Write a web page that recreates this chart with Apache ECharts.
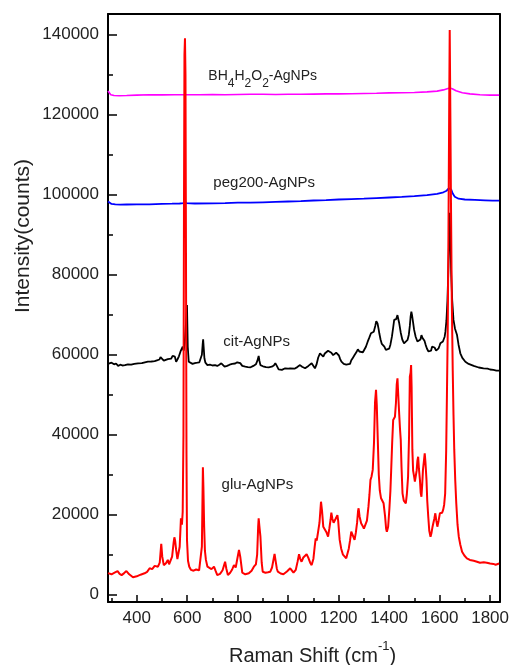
<!DOCTYPE html>
<html>
<head>
<meta charset="utf-8">
<script src="https://cdn.jsdelivr.net/npm/echarts@6/dist/echarts.min.js"></script>
<style>
  html, body { margin: 0; padding: 0; background: #fff; }
  #chart { width: 512px; height: 665px; }
</style>
</head>
<body>
<div id="chart"></div>
<script>
// Raman spectra of Ag nanoparticles with different capping agents: [shift (cm-1), counts]
const gluAgNPs = [[286,5400],[300,5100],[312,5500],[324,5900],[332,5200],[340,4900],[350,5400],[359,5900],[370,5100],[385,4350],[400,4600],[415,5000],[431,5350],[441,5700],[451,6600],[461,6400],[471,7200],[484,7000],[491,8000],[497,12700],[501,9500],[507,7400],[515,7800],[523,8700],[528,7600],[533,7400],[540,9500],[546,13000],[549,14350],[552,13500],[556,11200],[561,8900],[565,8700],[570,12000],[575,19100],[579,17500],[582,20750],[585,40000],[587,95000],[589,135000],[591,139100],[593,130000],[595,85000],[597,35000],[599,13700],[603,8500],[608,7000],[615,6200],[625,6000],[635,6300],[647,6100],[653,6600],[658,12000],[660,22000],[662,31850],[664,27000],[667,17000],[670,11000],[674,8700],[680,7000],[687,6600],[696,6400],[706,7000],[712,6000],[719,4900],[730,5200],[740,6100],[750,8250],[755,6500],[761,4900],[770,5500],[778,6300],[785,7400],[792,6800],[797,8500],[805,11200],[810,9500],[818,5500],[830,5100],[844,5350],[855,6000],[864,7000],[872,7600],[877,10000],[881,17000],[883,19100],[886,17000],[890,14500],[895,8000],[899,5750],[910,5500],[920,5600],[929,5750],[936,6800],[941,8500],[946,10200],[950,8500],[955,6500],[959,5750],[970,5300],[981,5100],[995,5800],[1008,6600],[1015,6200],[1021,5500],[1030,6200],[1037,8200],[1043,10100],[1048,8900],[1053,8250],[1060,9300],[1066,9000],[1073,10100],[1080,9200],[1087,8000],[1093,7400],[1100,9000],[1105,12000],[1109,14100],[1113,13500],[1118,15500],[1124,18000],[1128,21500],[1130,23250],[1134,21000],[1139,17000],[1145,17500],[1151,15700],[1158,14500],[1163,16500],[1168,18800],[1171,20500],[1175,19000],[1180,18000],[1184,17500],[1188,19000],[1193,19500],[1195,19900],[1198,18500],[1204,13700],[1210,11500],[1217,10000],[1224,9500],[1230,9100],[1234,9300],[1240,11500],[1245,13500],[1250,15750],[1256,15500],[1263,13700],[1268,15500],[1273,18000],[1277,21000],[1279,21600],[1283,19500],[1289,17850],[1295,17200],[1300,16500],[1305,16200],[1312,18500],[1318,22000],[1322,25000],[1326,28700],[1330,29500],[1335,31200],[1340,38000],[1344,48000],[1348,51200],[1351,47500],[1355,38700],[1359,30000],[1363,26000],[1368,24100],[1373,24000],[1378,22850],[1384,19500],[1388,16500],[1391,15750],[1396,17000],[1401,21500],[1405,26000],[1408,31000],[1412,38000],[1416,43700],[1420,44000],[1423,44500],[1427,48000],[1430,52500],[1433,54100],[1436,50000],[1440,45000],[1443,41500],[1446,38700],[1449,32000],[1453,25350],[1458,23500],[1462,23200],[1466,22850],[1470,25000],[1475,29500],[1479,40000],[1482,54500],[1485,55500],[1487,57400],[1489,52000],[1492,36200],[1495,31000],[1499,29500],[1502,28300],[1505,27850],[1509,31000],[1512,33500],[1515,34500],[1518,31500],[1522,28700],[1525,25500],[1528,24500],[1531,27500],[1534,31200],[1538,33500],[1541,35350],[1544,33000],[1548,28700],[1551,23500],[1555,19500],[1559,16000],[1564,14500],[1568,15500],[1572,17000],[1575,17850],[1579,19000],[1583,20350],[1587,18500],[1591,17000],[1596,18500],[1601,20350],[1606,20000],[1610,20500],[1614,21200],[1618,22500],[1622,25350],[1626,36000],[1629,50000],[1632,65000],[1635,90000],[1638,122000],[1640,141200],[1642,125000],[1645,98000],[1648,75000],[1652,56000],[1655,45000],[1658,36200],[1662,28500],[1666,22850],[1671,17500],[1676,14500],[1682,12500],[1689,10750],[1698,9800],[1708,9100],[1720,8700],[1735,8500],[1748,8250],[1760,8000],[1775,8100],[1787,8000],[1800,7800],[1813,7700],[1822,7500],[1829,7850],[1836,7800]];

const citAgNPs = [[286,57700],[293,58100],[300,58000],[310,57600],[318,57800],[326,57200],[335,57500],[343,57300],[353,57400],[365,57600],[378,57500],[390,57700],[405,57850],[420,57900],[432,58100],[444,58250],[458,58300],[471,58400],[480,58600],[490,58800],[494,59400],[497,59700],[501,59000],[507,58500],[515,58700],[523,58900],[530,59100],[536,59000],[542,59700],[547,60200],[551,59500],[556,58250],[561,58800],[567,59600],[573,60750],[578,61200],[582,62000],[586,61000],[590,63000],[595,68000],[599,72400],[602,62000],[606,58250],[612,58000],[621,57700],[630,57900],[640,58000],[648,58100],[654,58250],[658,60000],[661,62500],[663,63850],[665,62000],[668,59100],[672,58000],[680,57400],[690,57500],[700,57300],[710,57400],[719,57200],[727,57500],[735,57850],[741,57400],[748,57000],[758,57200],[768,57500],[778,57700],[790,57800],[798,58100],[805,58500],[810,57900],[818,57200],[830,57000],[840,56900],[851,56850],[862,57200],[872,57600],[878,58500],[883,59700],[886,58500],[890,57400],[900,57100],[912,56900],[923,56850],[935,57000],[943,57300],[949,57850],[955,57200],[962,56350],[975,56200],[988,56600],[1000,56500],[1008,56600],[1014,56350],[1025,56500],[1036,56900],[1047,57400],[1055,57000],[1067,56600],[1080,57200],[1093,57850],[1100,57200],[1106,56600],[1112,57500],[1119,59300],[1126,60350],[1132,60000],[1139,59500],[1145,60300],[1152,60500],[1158,61000],[1165,61350],[1171,60500],[1178,59900],[1184,60200],[1190,60500],[1195,60750],[1201,59800],[1206,58900],[1211,58250],[1220,57700],[1230,57500],[1237,57400],[1245,57700],[1250,58600],[1256,59200],[1263,59900],[1270,60600],[1276,61350],[1282,60800],[1289,60350],[1296,60600],[1302,61300],[1308,62000],[1315,63250],[1321,64200],[1328,65350],[1334,65200],[1339,65750],[1345,67200],[1349,68400],[1351,68700],[1354,67800],[1358,66500],[1361,65350],[1366,63800],[1371,62700],[1376,62200],[1381,62000],[1387,61200],[1394,60750],[1400,61500],[1405,62500],[1411,64500],[1416,66800],[1420,68700],[1424,68200],[1428,68900],[1433,69900],[1436,69000],[1440,67850],[1446,65500],[1452,63800],[1459,62850],[1466,63200],[1473,63700],[1478,65000],[1482,67200],[1485,69500],[1488,70750],[1491,69800],[1495,68000],[1499,66200],[1505,64500],[1512,63300],[1519,62850],[1524,63800],[1528,64900],[1532,64200],[1536,64700],[1540,63500],[1545,62400],[1550,61500],[1556,60800],[1562,60350],[1566,61000],[1570,62000],[1575,62400],[1580,61800],[1586,61000],[1591,60750],[1596,61600],[1600,62300],[1603,62850],[1608,62900],[1613,63300],[1617,63700],[1620,64500],[1623,65750],[1627,68500],[1631,73500],[1635,82000],[1638,90000],[1640,95500],[1643,88000],[1646,80000],[1650,73500],[1655,68700],[1661,66500],[1669,64900],[1675,62500],[1682,60350],[1690,59200],[1702,58250],[1715,57700],[1735,57200],[1755,56800],[1774,56600],[1790,56500],[1800,56300],[1813,56200],[1825,56000],[1836,56000]];

const peg200AgNPs = [[286,98300],[293,97900],[300,97700],[315,97600],[335,97500],[360,97550],[400,97600],[450,97600],[500,97700],[540,97750],[570,97800],[585,97900],[590,98600],[595,97900],[630,97800],[700,97850],[750,97900],[800,98000],[850,98000],[900,98100],[950,98200],[1000,98300],[1050,98400],[1100,98550],[1150,98650],[1200,98800],[1250,98900],[1300,99000],[1350,99150],[1400,99300],[1450,99450],[1500,99650],[1550,99900],[1590,100200],[1615,100600],[1628,101000],[1636,101600],[1641,101900],[1646,101300],[1652,100300],[1660,99500],[1675,99000],[1700,98800],[1740,98700],[1780,98600],[1810,98500],[1836,98500]];

const bhAgNPs = [[286,125900],[290,125400],[297,125000],[310,124800],[330,124750],[360,124800],[400,124900],[450,125000],[500,124950],[550,125000],[600,125000],[650,125000],[700,125050],[750,125000],[800,125050],[850,125100],[900,125100],[950,125050],[1000,125100],[1050,125100],[1100,125150],[1150,125200],[1200,125200],[1250,125250],[1300,125300],[1350,125350],[1400,125450],[1450,125500],[1500,125550],[1550,125700],[1590,125900],[1615,126200],[1630,126500],[1640,126700],[1650,126500],[1665,126000],[1690,125500],[1720,125200],[1760,125000],[1800,124900],[1836,124900]];

// axis ticks
const xMajorTicks = [400, 600, 800, 1000, 1200, 1400, 1600, 1800];
const xMinorTicks = [300, 500, 700, 900, 1100, 1300, 1500, 1700];
const yMajorTicks = [0, 20000, 40000, 60000, 80000, 100000, 120000, 140000];
const yMinorTicks = [10000, 30000, 50000, 70000, 90000, 110000, 130000];

// series name labels, placed in data coordinates
const labelPos = {
  bh: [899, 129550],
  peg: [905, 102900],
  cit: [875, 63250],
  glu: [878, 27400]
};

const FONT = "'Liberation Sans', Arial, sans-serif";
const X_RANGE = [286, 1838];
const Y_RANGE = [-1825, 145175];

const chart = echarts.init(document.getElementById('chart'), null, { renderer: 'canvas' });

const axisLineStyle = { color: '#000', width: 2 };

function nameMark(coord, formatter, rich) {
  return {
    symbol: 'circle',
    symbolSize: 0,
    silent: true,
    label: {
      show: true,
      position: 'inside',
      color: '#222',
      fontFamily: FONT,
      fontSize: 15,
      formatter: formatter,
      rich: rich
    },
    data: [{ coord: coord }]
  };
}

const subRich = {
  a: { fontFamily: FONT, fontSize: 14, color: '#222', lineHeight: 26, verticalAlign: 'middle' },
  s: { fontFamily: FONT, fontSize: 12, color: '#222', lineHeight: 12, verticalAlign: 'bottom' }
};

function lineSeries(name, data, color, width, mark) {
  return {
    name: name,
    type: 'line',
    xAxisIndex: 0,
    yAxisIndex: 0,
    data: data,
    symbol: 'none',
    smooth: false,
    animation: false,
    lineStyle: { color: color, width: width },
    markPoint: mark
  };
}

const option = {
  animation: false,
  backgroundColor: '#fff',
  grid: { left: 108, right: 9, top: 14, bottom: 63, containLabel: false },
  xAxis: [
    {
      type: 'value', position: 'bottom', min: X_RANGE[0], max: X_RANGE[1],
      axisLine: { show: true, onZero: false, lineStyle: axisLineStyle },
      axisTick: { show: true, inside: true, length: 7, customValues: xMajorTicks, lineStyle: { color: '#000', width: 1.5 } },
      axisLabel: { show: true, customValues: xMajorTicks, margin: 8, color: '#222', fontFamily: FONT, fontSize: 17,
        formatter: v => String(v) },
      splitLine: { show: false }
    },
    {
      type: 'value', position: 'bottom', min: X_RANGE[0], max: X_RANGE[1],
      axisLine: { show: false, onZero: false },
      axisTick: { show: true, inside: true, length: 4, customValues: xMinorTicks, lineStyle: { color: '#000', width: 1.5 } },
      axisLabel: { show: false },
      splitLine: { show: false }
    },
    {
      type: 'value', position: 'top', min: X_RANGE[0], max: X_RANGE[1],
      axisLine: { show: true, onZero: false, lineStyle: axisLineStyle },
      axisTick: { show: false }, axisLabel: { show: false }, splitLine: { show: false }
    }
  ],
  yAxis: [
    {
      type: 'value', position: 'left', min: Y_RANGE[0], max: Y_RANGE[1],
      axisLine: { show: true, onZero: false, lineStyle: axisLineStyle },
      axisTick: { show: true, inside: true, length: 9, customValues: yMajorTicks, lineStyle: { color: '#000', width: 1.5 } },
      axisLabel: { show: true, customValues: yMajorTicks, margin: 9, color: '#222', fontFamily: FONT, fontSize: 17,
        formatter: v => String(v) },
      splitLine: { show: false }
    },
    {
      type: 'value', position: 'left', min: Y_RANGE[0], max: Y_RANGE[1],
      axisLine: { show: false, onZero: false },
      axisTick: { show: true, inside: true, length: 5, customValues: yMinorTicks, lineStyle: { color: '#000', width: 1.5 } },
      axisLabel: { show: false },
      splitLine: { show: false }
    },
    {
      type: 'value', position: 'right', min: Y_RANGE[0], max: Y_RANGE[1],
      axisLine: { show: true, onZero: false, lineStyle: axisLineStyle },
      axisTick: { show: false }, axisLabel: { show: false }, splitLine: { show: false }
    }
  ],
  series: [
    lineSeries('BH4H2O2-AgNPs', bhAgNPs, '#ff00ff', 1.6,
      nameMark(labelPos.bh, '{a|BH}{s|4}{a|H}{s|2}{a|O}{s|2}{a|-AgNPs}', subRich)),
    lineSeries('peg200-AgNPs', peg200AgNPs, '#0000ff', 1.8,
      nameMark(labelPos.peg, 'peg200-AgNPs')),
    lineSeries('cit-AgNPs', citAgNPs, '#000000', 1.8,
      nameMark(labelPos.cit, 'cit-AgNPs')),
    lineSeries('glu-AgNPs', gluAgNPs, '#ff0000', 2,
      nameMark(labelPos.glu, 'glu-AgNPs'))
  ],
  graphic: [
    {
      type: 'text',
      left: 229,
      top: 640,
      style: {
        text: '{n|Raman Shift (cm}{p|-1}{n|)}',
        rich: {
          n: { fontFamily: FONT, fontSize: 20, fill: '#222', lineHeight: 26, verticalAlign: 'bottom' },
          p: { fontFamily: FONT, fontSize: 13, fill: '#222', lineHeight: 26, verticalAlign: 'top' }
        }
      }
    },
    {
      type: 'text',
      x: 23,
      y: 236,
      rotation: Math.PI / 2,
      style: {
        text: 'Intensity(counts)',
        fontFamily: FONT,
        fontSize: 21,
        fill: '#222',
        align: 'center',
        verticalAlign: 'middle'
      }
    }
  ]
};

chart.setOption(option);
</script>
</body>
</html>
